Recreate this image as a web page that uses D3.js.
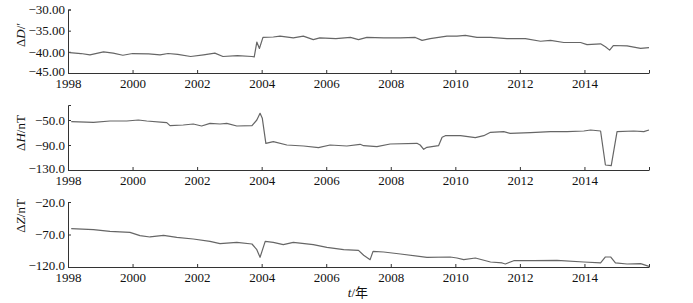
<!DOCTYPE html>
<html lang="zh">
<head>
<meta charset="UTF-8">
<title>ΔD ΔH ΔZ 1998-2016</title>
<script src="https://cdn.jsdelivr.net/npm/d3@7"></script>
<style>
    body { margin: 0; background: #fff; }
    svg text { font-family: "Liberation Serif", "Times New Roman", serif; fill: #111; }
</style>
</head>
<body>
<script>
    // Zeitachse
    const xTicks = [1998, 2000, 2002, 2004, 2006, 2008, 2010, 2012, 2014, 2016];

    // ΔD (Bogenminuten)
    const yearsD = [1998.05, 1998.4, 1998.68, 1999.1, 1999.4, 1999.7, 2000.0, 2000.5, 2000.85, 2001.1,
        2001.4, 2001.8, 2002.2, 2002.55, 2002.8, 2003.25, 2003.7, 2003.77, 2003.85, 2003.93,
        2004.04, 2004.36, 2004.57, 2004.98, 2005.29, 2005.6, 2005.8, 2006.3, 2006.75, 2007.0,
        2007.26, 2007.78, 2008.3, 2008.76, 2008.97, 2009.22, 2009.74, 2010.05, 2010.31, 2010.67,
        2011.09, 2011.6, 2012.17, 2012.64, 2012.95, 2013.36, 2013.88, 2014.08, 2014.5, 2014.65,
        2014.78, 2014.9, 2015.32, 2015.74, 2016.0];
    const valuesD = [-40.2, -40.4, -40.7, -40.0, -40.3, -40.8, -40.4, -40.5, -40.7, -40.4,
        -40.6, -41.1, -40.7, -40.3, -41.1, -40.9, -41.1, -41.2, -37.7, -39.2,
        -36.6, -36.5, -36.3, -36.7, -36.3, -37.1, -36.7, -36.9, -36.6, -37.1,
        -36.6, -36.7, -36.7, -36.6, -37.3, -36.9, -36.3, -36.3, -36.1, -36.6,
        -36.6, -36.9, -36.9, -37.5, -37.3, -37.8, -37.8, -38.3, -38.1, -38.8,
        -39.6, -38.5, -38.6, -39.2, -39.0];
    const ticksD = [-45, -40, -35, -30];

    // ΔH (nT)
    const yearsH = [1998.1, 1998.79, 1999.3, 1999.82, 2000.18, 2000.44, 2000.96, 2001.06, 2001.16, 2001.57,
        2001.88, 2002.14, 2002.4, 2002.71, 2002.92, 2003.23, 2003.7, 2003.85, 2003.95, 2004.02,
        2004.13, 2004.36, 2004.78, 2005.3, 2005.76, 2006.12, 2006.64, 2007.05, 2007.16, 2007.57,
        2007.98, 2008.81, 2008.91, 2009.02, 2009.12, 2009.48, 2009.59, 2009.69, 2010.16, 2010.62,
        2010.88, 2011.09, 2011.5, 2011.7, 2012.33, 2012.95, 2013.46, 2013.98, 2014.19, 2014.5,
        2014.65, 2014.83, 2015.01, 2015.53, 2015.84, 2016.0];
    const valuesH = [-52.7, -53.7, -51.6, -51.6, -50, -51.6, -53.7, -54.2, -59.1, -58,
        -56.4, -59.6, -55.3, -56.4, -55.3, -59.6, -59.1, -50, -39.3, -47.3,
        -87.3, -84.7, -90, -91.6, -94.3, -90, -91.6, -88.9, -91.1, -92.7,
        -88.4, -87.3, -90, -96.9, -93.7, -91.1, -77.7, -75.1, -75.1, -78.3,
        -75.1, -69.7, -68.7, -71.3, -70.2, -68.7, -68.7, -67.6, -66, -67.6,
        -122, -123, -68.7, -67.6, -68.7, -66];
    const ticksH = [-130, -90, -50];

    // ΔZ (nT)
    const yearsZ = [1998.1, 1998.79, 1999.3, 1999.92, 2000.23, 2000.54, 2000.96, 2001.37, 2001.88, 2002.4,
        2002.71, 2003.23, 2003.7, 2003.85, 2003.95, 2004.11, 2004.36, 2004.67, 2004.98, 2005.6,
        2006.02, 2006.54, 2007.0, 2007.16, 2007.36, 2007.45, 2007.78, 2008.3, 2009.12, 2009.84,
        2010.05, 2010.26, 2010.62, 2011.09, 2011.45, 2011.55, 2011.81, 2012.43, 2013.15, 2013.98,
        2014.5, 2014.65, 2014.81, 2014.96, 2015.32, 2015.74, 2016.0];
    const valuesZ = [-61, -62.6, -65.1, -66.7, -71.8, -73.8, -71.3, -74.3, -76.9, -80.5,
        -84.1, -82, -84.6, -93.3, -105.1, -80.5, -82, -85.6, -82, -85.6,
        -89.7, -93.3, -94.4, -102, -108.7, -95.9, -96.9, -100, -105.1, -104.6,
        -106.2, -108.7, -106.2, -112.3, -113.8, -115.4, -110.3, -110.3, -109.7, -112.3,
        -113.8, -104.6, -104.6, -113.8, -115.4, -114.9, -119];
    const ticksZ = [-120, -70, -20];

    const width = 693, height = 303;
    const left = 68, right = 649;

    const svg = d3.select("body").append("svg")
        .attr("width", width)
        .attr("height", height);

    const x = d3.scaleLinear().domain([1998, 2016]).range([left, right]);

    // Panels: Daten, Wertebereich, Pixelbereich
    const panels = [
        { years: yearsD, values: valuesD, ticks: ticksD, domain: [-45, -30], range: [73, 9.5], fmt: d3.format(".2f"), title: "D", unit: "/\u2032", titleY: 35 },
        { years: yearsH, values: valuesH, ticks: ticksH, domain: [-130, -26], range: [170, 105], fmt: d3.format(".1f"), title: "H", unit: "/nT", titleY: 133 },
        { years: yearsZ, values: valuesZ, ticks: ticksZ, domain: [-120, -20], range: [267, 202], fmt: d3.format(".1f"), title: "Z", unit: "/nT", titleY: 216 }
    ];

    panels.forEach(function (p) {
        const y = d3.scaleLinear().domain(p.domain).range(p.range);
        const g = svg.append("g");

        // x-Achse
        const xa = g.append("g")
            .attr("transform", "translate(0," + p.range[0] + ")")
            .call(d3.axisBottom(x).tickValues(xTicks).tickSize(-3).tickSizeOuter(0).tickPadding(6)
                .tickFormat(function (d) { return d === 2016 ? "" : d; }));
        xa.selectAll("text").attr("font-size", "13px").attr("font-family", null);

        // y-Achse
        const ya = g.append("g")
            .attr("transform", "translate(" + left + ",0)")
            .call(d3.axisLeft(y).tickValues(p.ticks).tickSize(-3).tickSizeOuter(-3).tickPadding(3)
                .tickFormat(p.fmt));
        ya.selectAll("text").attr("font-size", "13px").attr("font-family", null);
        // unterstes Label etwas anheben, damit es nicht mit dem Jahr kollidiert
        ya.selectAll(".tick text").filter(function (d) { return d === p.domain[0]; }).attr("dy", "0.2em");

        g.selectAll(".domain, .tick line").attr("stroke", "#333");

        // Achsentitel
        const t = g.append("text")
            .attr("transform", "translate(25," + p.titleY + ") rotate(-90)")
            .attr("text-anchor", "middle")
            .attr("font-size", "13px");
        t.append("tspan").text("\u0394");
        t.append("tspan").attr("font-style", "italic").text(p.title);
        t.append("tspan").text(p.unit);

        // Kurve
        const pts = p.years.map(function (yr, i) { return [yr, p.values[i]]; });
        g.append("path")
            .datum(pts)
            .attr("fill", "none")
            .attr("stroke", "#666")
            .attr("stroke-width", 1.2)
            .attr("stroke-linejoin", "round")
            .attr("d", d3.line()
                .x(function (d) { return x(d[0]); })
                .y(function (d) { return y(d[1]); }));
    });

    // Beschriftung Zeitachse
    const xt = svg.append("text")
        .attr("x", 358)
        .attr("y", 297)
        .attr("text-anchor", "middle")
        .attr("font-size", "13px");
    xt.append("tspan").attr("font-style", "italic").text("t");
    xt.append("tspan").text("/");
    xt.append("tspan").attr("style", "font-family: 'Noto Sans CJK SC', serif").text("年");
</script>
</body>
</html>
